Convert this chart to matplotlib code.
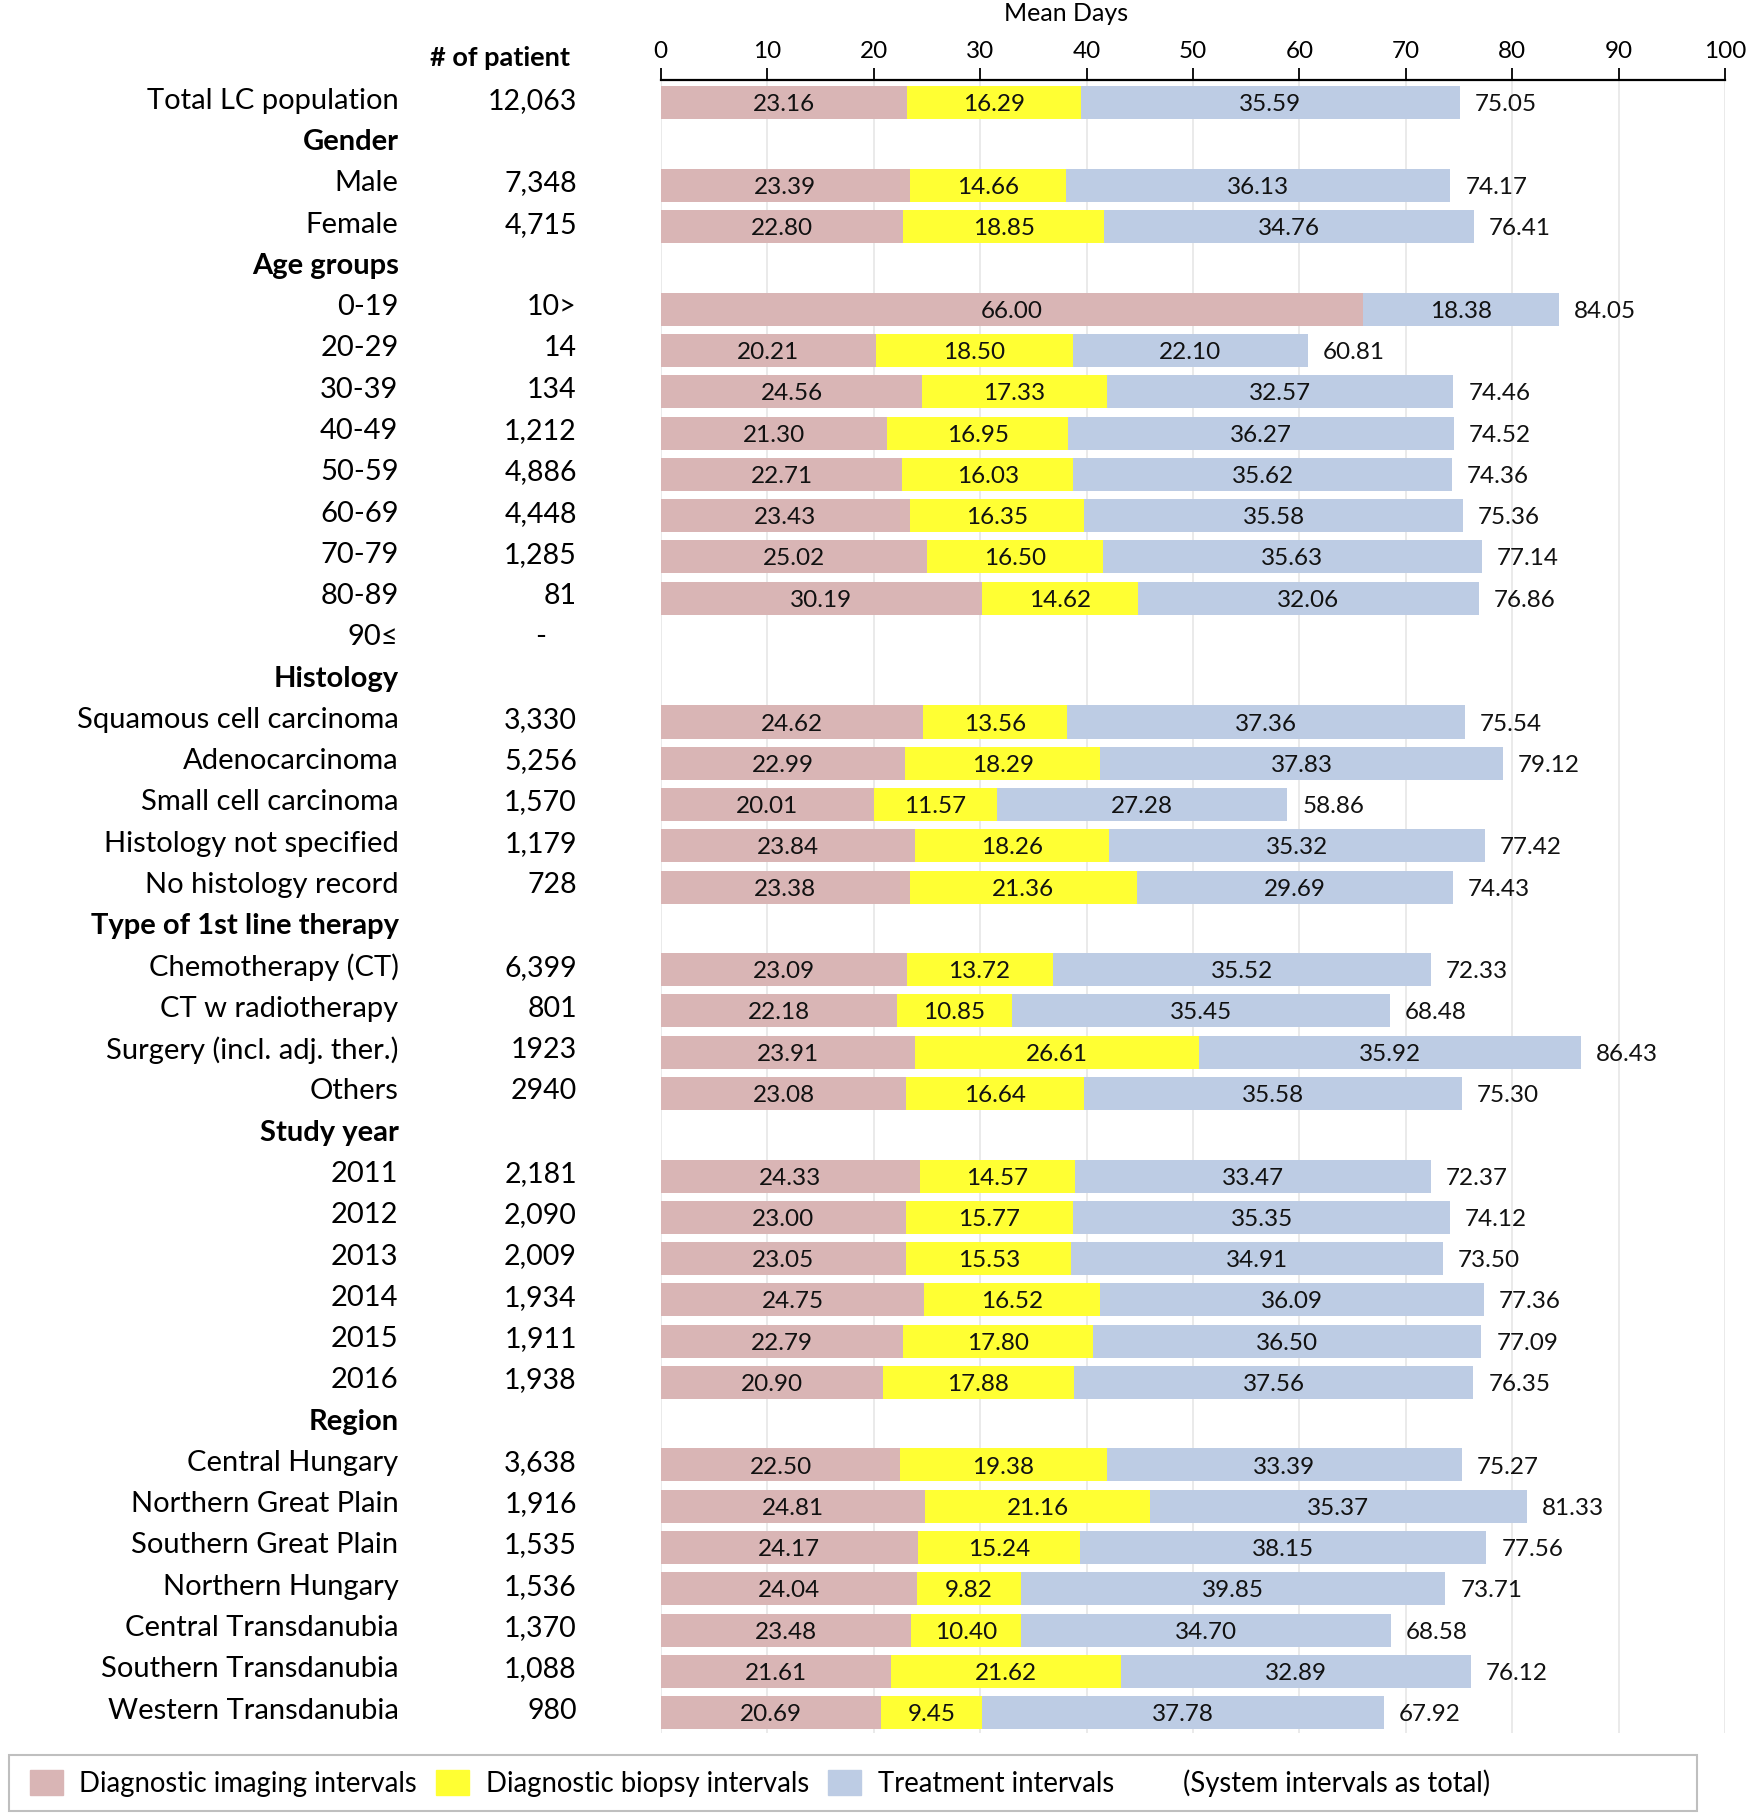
import numpy as np
import matplotlib
matplotlib.use("Agg")
from matplotlib import pyplot as plt
from matplotlib import transforms
from matplotlib.patches import Patch, Rectangle

plt.rcParams['font.family'] = ['Lato', 'DejaVu Sans']

# filas de la tabla
etiquetas = ["Total LC population", "Gender", "Male", "Female", "Age groups",
             "0-19", "20-29", "30-39", "40-49", "50-59", "60-69", "70-79", "80-89", "90≤",
             "Histology", "Squamous cell carcinoma", "Adenocarcinoma", "Small cell carcinoma",
             "Histology not specified", "No histology record",
             "Type of 1st line therapy", "Chemotherapy (CT)", "CT w radiotherapy",
             "Surgery (incl. adj. ther.)", "Others",
             "Study year", "2011", "2012", "2013", "2014", "2015", "2016",
             "Region", "Central Hungary", "Northern Great Plain", "Southern Great Plain",
             "Northern Hungary", "Central Transdanubia", "Southern Transdanubia",
             "Western Transdanubia"]
encabezados = ["Gender", "Age groups", "Histology", "Type of 1st line therapy",
               "Study year", "Region"]

pacientes = ["12,063", "", "7,348", "4,715", "",
             "10>", "14", "134", "1,212", "4,886", "4,448", "1,285", "81", "-",
             "", "3,330", "5,256", "1,570", "1,179", "728",
             "", "6,399", "801", "1923", "2940",
             "", "2,181", "2,090", "2,009", "1,934", "1,911", "1,938",
             "", "3,638", "1,916", "1,535", "1,536", "1,370", "1,088", "980"]

nan = np.nan
imagen = [23.16, nan, 23.39, 22.80, nan,
          66.00, 20.21, 24.56, 21.30, 22.71, 23.43, 25.02, 30.19, nan,
          nan, 24.62, 22.99, 20.01, 23.84, 23.38,
          nan, 23.09, 22.18, 23.91, 23.08,
          nan, 24.33, 23.00, 23.05, 24.75, 22.79, 20.90,
          nan, 22.50, 24.81, 24.17, 24.04, 23.48, 21.61, 20.69]
biopsia = [16.29, nan, 14.66, 18.85, nan,
           0.00, 18.50, 17.33, 16.95, 16.03, 16.35, 16.50, 14.62, nan,
           nan, 13.56, 18.29, 11.57, 18.26, 21.36,
           nan, 13.72, 10.85, 26.61, 16.64,
           nan, 14.57, 15.77, 15.53, 16.52, 17.80, 17.88,
           nan, 19.38, 21.16, 15.24, 9.82, 10.40, 21.62, 9.45]
tratamiento = [35.59, nan, 36.13, 34.76, nan,
               18.38, 22.10, 32.57, 36.27, 35.62, 35.58, 35.63, 32.06, nan,
               nan, 37.36, 37.83, 27.28, 35.32, 29.69,
               nan, 35.52, 35.45, 35.92, 35.58,
               nan, 33.47, 35.35, 34.91, 36.09, 36.50, 37.56,
               nan, 33.39, 35.37, 38.15, 39.85, 34.70, 32.89, 37.78]
total = [75.05, nan, 74.17, 76.41, nan,
         84.05, 60.81, 74.46, 74.52, 74.36, 75.36, 77.14, 76.86, nan,
         nan, 75.54, 79.12, 58.86, 77.42, 74.43,
         nan, 72.33, 68.48, 86.43, 75.30,
         nan, 72.37, 74.12, 73.50, 77.36, 77.09, 76.35,
         nan, 75.27, 81.33, 77.56, 73.71, 68.58, 76.12, 67.92]

col_img = '#D9B5B5'
col_bio = '#FFFF33'
col_tra = '#BDCCE4'


def main():
    fig = plt.figure(figsize=(17.48, 18.13), dpi=100)
    ax = fig.add_axes([0.378, 0.044, 0.609, 0.912])

    n = len(etiquetas)
    y = np.arange(n)
    a = np.array(imagen)
    b = np.array(biopsia)
    c = np.array(tratamiento)

    ax.barh(y, a, height=0.8, color=col_img, zorder=2)
    ax.barh(y, b, left=a, height=0.8, color=col_bio, zorder=2)
    ax.barh(y, c, left=a + b, height=0.8, color=col_tra, zorder=2)

    # valores dentro de cada segmento y total al final
    for i in range(n):
        if np.isnan(a[i]):
            continue
        for ini, ancho in ((0, a[i]), (a[i], b[i]), (a[i] + b[i], c[i])):
            if ancho > 0:
                ax.text(ini + ancho / 2, i + 0.05, f"{ancho:.2f}", ha='center', va='center',
                        fontsize=17.5, color='#111111', zorder=3)
        ax.text(a[i] + b[i] + c[i] + 1.4, i + 0.05, f"{total[i]:.2f}", ha='left',
                va='center', fontsize=17.5, color='#111111')

    ax.set_xlim(0, 100)
    ax.set_ylim(n - 0.5, -0.56)
    ax.xaxis.tick_top()
    ax.set_xticks(np.arange(0, 101, 10))
    ax.tick_params(axis='x', direction='out', length=9, width=1.3, labelsize=17.5,
                   pad=4, colors='black')
    ax.set_yticks([])
    for s in ['left', 'right', 'bottom']:
        ax.spines[s].set_visible(False)
    ax.spines['top'].set_linewidth(1.6)
    ax.grid(axis='x', color='#E6E6E6', linewidth=1.2, zorder=0)
    ax.set_axisbelow(True)
    fig.text(0.610, 0.9925, "Mean Days", ha='center', va='center', fontsize=18)

    # columnas de texto a la izquierda
    tr = transforms.blended_transform_factory(fig.transFigure, ax.transData)
    for i in range(n):
        negrita = etiquetas[i] in encabezados
        ax.text(0.228, i - 0.05, etiquetas[i], ha='right', va='center', fontsize=21,
                fontweight='bold' if negrita else 'normal', transform=tr)
        if pacientes[i] == "-":
            ax.text(0.309, i - 0.05, "-", ha='center', va='center', fontsize=21,
                    transform=tr)
        elif pacientes[i]:
            ax.text(0.330, i - 0.05, pacientes[i], ha='right', va='center', fontsize=20.5,
                    transform=tr)
    fig.text(0.286, 0.968, "# of patient", ha='center', va='center', fontsize=19.5,
             fontweight='bold')

    # leyenda con marco propio
    fig.patches.append(Rectangle((0.005, 0.001), 0.966, 0.031, transform=fig.transFigure,
                                 facecolor='white', edgecolor='#BFBFBF', linewidth=1.5))
    manejadores = [Patch(color=col_img), Patch(color=col_bio), Patch(color=col_tra),
                   Patch(alpha=0)]
    textos = ["Diagnostic imaging intervals", "Diagnostic biopsy intervals",
              "Treatment intervals", "(System intervals as total)"]
    fig.legend(manejadores, textos, loc='center left', bbox_to_anchor=(0.006, 0.0165),
               ncol=4, fontsize=19.8, frameon=False, handlelength=1.2, handleheight=1.0,
               columnspacing=0.7, borderpad=0.2, handletextpad=0.6)

    fig.savefig("out.png", dpi=100)


if __name__ == "__main__":
    main()
